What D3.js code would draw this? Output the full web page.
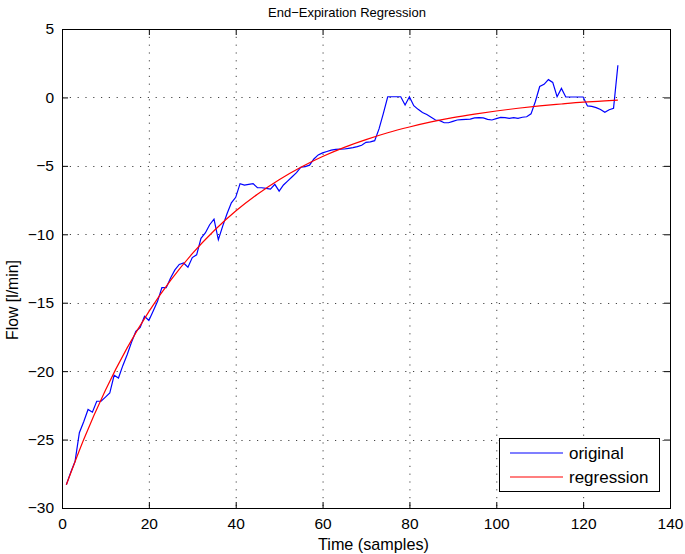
<!DOCTYPE html>
<html><head><meta charset="utf-8">
<script src="https://cdn.jsdelivr.net/npm/d3@7"></script>
<style>body{margin:0;background:#fff}text{font-family:"Liberation Sans",Arial,Helvetica,sans-serif}</style>
</head><body><svg id="c" width="685" height="554"></svg>
<script>
const title = "End\u2212Expiration Regression";
const xLabel = "Time (samples)";
const yLabel = "Flow [l/min]";
const xTicks = [0,20,40,60,80,100,120,140];
const yTicks = [5,0,-5,-10,-15,-20,-25,-30];
const seriesNames = ["original","regression"];
const originalY = [-28.3,-27.4,-26.6,-24.5,-23.7,-22.8,-23.0,-22.2,-22.2,-21.9,
 -21.6,-20.3,-20.5,-19.6,-18.8,-17.9,-17.1,-16.8,-16.0,-16.3,
 -15.6,-14.9,-13.9,-13.9,-13.2,-12.6,-12.2,-12.1,-12.4,-11.7,
 -11.5,-10.3,-9.9,-9.3,-8.9,-10.4,-9.4,-8.5,-7.7,-7.3,
 -6.3,-6.4,-6.35,-6.3,-6.6,-6.6,-6.65,-6.7,-6.35,-6.85,
 -6.4,-6.1,-5.8,-5.5,-5.1,-5.05,-4.95,-4.5,-4.2,-4.05,
 -3.95,-3.85,-3.8,-3.78,-3.77,-3.72,-3.67,-3.6,-3.5,-3.28,
 -3.25,-3.16,-2.3,-1.16,0.05,0.05,0.05,0.05,-0.55,0.05,
 -0.6,-0.87,-1.1,-1.25,-1.45,-1.65,-1.7,-1.85,-1.85,-1.75,
 -1.65,-1.62,-1.6,-1.58,-1.5,-1.48,-1.5,-1.6,-1.65,-1.55,
 -1.46,-1.48,-1.53,-1.48,-1.53,-1.45,-1.41,-1.2,-0.3,0.8,
 0.96,1.3,1.1,0.05,0.66,0.03,0.03,0.03,0.03,0.03,
 -0.62,-0.66,-0.75,-0.88,-1.09,-0.9,-0.8,2.35];
const regressionX = [1,5,10,15,20,25,30,35,40,45,50,55,60,65,70,75,80,85,90,95,100,105,110,115,120,125,128];
const regressionY = [-28.3,-24.99,-21.39,-18.30,-15.65,-13.37,-11.42,-9.74,-8.30,-7.07,-6.01,-5.10,-4.32,-3.65,-3.08,-2.58,-2.16,-1.79,-1.48,-1.22,-0.99,-0.79,-0.62,-0.48,-0.35,-0.25,-0.19];

const svg = d3.select("#c");
const L=62,R=670,T=29,B=508;
const x = d3.scaleLinear().domain([0,140]).range([L,R]);
const y = d3.scaleLinear().domain([-30,5]).range([B,T]);

// grid
const g = svg.append("g");
g.selectAll(".gx").data(xTicks.slice(1,-1)).enter().append("line")
 .attr("x1",d=>x(d)+0.5).attr("x2",d=>x(d)+0.5).attr("y1",T).attr("y2",B)
 .attr("stroke","#444").attr("stroke-width",1).attr("stroke-dasharray","1.2,6.6");
g.selectAll(".gy").data(yTicks.slice(1,-1)).enter().append("line")
 .attr("y1",d=>Math.round(y(d))+0.5).attr("y2",d=>Math.round(y(d))+0.5).attr("x1",L).attr("x2",R)
 .attr("stroke","#444").attr("stroke-width",1).attr("stroke-dasharray","1.2,6.6");

// axes with inward ticks
const minus = v => String(v).replace("-","\u2212");
const ax = svg.append("g").attr("transform",`translate(0,${B})`)
 .call(d3.axisBottom(x).tickValues(xTicks).tickSize(-6).tickPadding(10).tickFormat(d=>d));
const axT = svg.append("g").attr("transform",`translate(0,${T})`)
 .call(d3.axisTop(x).tickValues(xTicks).tickSize(-6).tickFormat(""));
const ay = svg.append("g").attr("transform",`translate(${L},0)`)
 .call(d3.axisLeft(y).tickValues(yTicks).tickSize(-6).tickPadding(8).tickFormat(d=>minus(d)));
const ayR = svg.append("g").attr("transform",`translate(${R},0)`)
 .call(d3.axisRight(y).tickValues(yTicks).tickSize(-6).tickFormat(""));
[ax,axT,ay,ayR].forEach(a=>{
 a.select(".domain").remove();
 a.selectAll("line").attr("stroke","#000");
 a.selectAll("text").attr("font-size",15.5).attr("fill","#000").attr("font-family","'Liberation Sans',Arial,sans-serif");
});
svg.append("rect").attr("x",L+0.5).attr("y",T+0.5).attr("width",R-L).attr("height",B-T)
 .attr("fill","none").attr("stroke","#000").attr("stroke-width",1);

// lines
const orig = originalY.map((v,i)=>[i+1,v]);
const reg = regressionX.map((v,i)=>[v,regressionY[i]]);
svg.append("path").datum(orig).attr("fill","none").attr("stroke","#0000ff").attr("stroke-width",1.2)
 .attr("d",d3.line().x(d=>x(d[0])).y(d=>y(d[1])));
svg.append("path").datum(reg).attr("fill","none").attr("stroke","#ff0000").attr("stroke-width",1.2)
 .attr("d",d3.line().curve(d3.curveMonotoneX).x(d=>x(d[0])).y(d=>y(d[1])));

// labels
svg.append("text").attr("x",268).attr("y",17).attr("text-anchor","start").attr("font-size",13).text(title);
svg.append("text").attr("x",318).attr("y",550).attr("text-anchor","start").attr("font-size",16.2).text(xLabel);
svg.append("text").attr("transform",`translate(18,340) rotate(-90)`).attr("text-anchor","start").attr("font-size",15.8).text(yLabel);

// legend
const lg = svg.append("g");
lg.append("rect").attr("x",499.5).attr("y",438.5).attr("width",160).attr("height",53)
 .attr("fill","#fff").attr("stroke","#000").attr("stroke-width",1);
const colors=["#0000ff","#ff0000"];
seriesNames.forEach((n,i)=>{
 const yy = 453 + i*24;
 lg.append("line").attr("x1",510).attr("x2",563).attr("y1",yy).attr("y2",yy).attr("stroke",colors[i]).attr("stroke-width",1.2);
 lg.append("text").attr("x",569).attr("y",yy+6).attr("font-size",17).text(n);
});
</script></body></html>
